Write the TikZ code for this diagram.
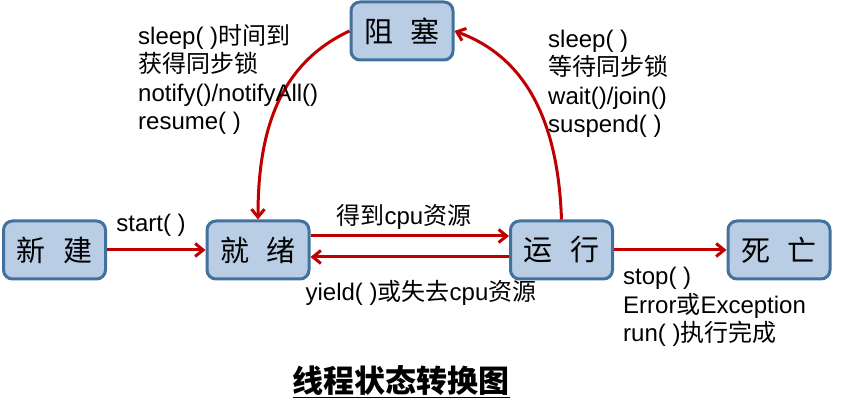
\documentclass[tikz,border=0pt]{standalone}
\usepackage{fontspec}
\setmainfont{Liberation Sans}
\newfontfamily\cjk{Noto Sans CJK SC}
\usetikzlibrary{arrows.meta}
\tikzset{>={Straight Barb[length=8pt,width=13pt]}}
\definecolor{b1}{HTML}{B9CDE5}
\definecolor{b2}{HTML}{41719C}
\definecolor{r1}{HTML}{C00000}
\newcommand\zh[1]{{\cjk #1}}
\tikzstyle{state}=[draw=b2,fill=b1,line width=3pt,rounded corners=9pt,minimum width=102pt,minimum height=58pt,font=\cjk\fontsize{29}{30}\selectfont]
\tikzstyle{trans}=[->,r1,line width=3pt]
\tikzstyle{lbl}=[font=\fontsize{24}{28.5}\selectfont,align=left,inner sep=0pt]

\begin{document}
\begin{tikzpicture}[x=1pt,y=1pt]
  \useasboundingbox (0,0) rectangle (852,403);
  \node[state] (xinjian) at (54.5,153) {新\hspace{0.6em}建};
  \node[state] (jiuxu) at (258,153) {就\hspace{0.6em}绪};
  \node[state] (yunxing) at (561.5,153) {运\hspace{0.6em}行};
  \node[state] (siwang) at (779,153) {死\hspace{0.6em}亡};
  \node[state] (zuse) at (402,372) {阻\hspace{0.6em}塞};
  \draw[trans] (xinjian) -- (jiuxu);
  \draw[trans] ([yshift=14pt]jiuxu.east) -- ([yshift=14pt]yunxing.west);
  \draw[trans] ([yshift=-7pt]yunxing.west) -- ([yshift=-7pt]jiuxu.east);
  \draw[trans] (yunxing) -- (siwang);
  \draw[trans] (zuse.west) to[out=205,in=90] (jiuxu.north);
  \draw[trans] (yunxing.north) to[out=92,in=-20] (zuse.east);
  \node[lbl] (start) at (151,178) {start( )};
  \node[lbl] (getcpu) at (404,186) {\zh{得到}cpu\zh{资源}};
  \node[lbl] (yield) at (421,110) {yield( )\zh{或失去}cpu\zh{资源}};
  \node[lbl,anchor=west] (wakeup) at (138,323.5) {sleep( )\zh{时间到}\\ \zh{获得同步锁}\\ notify()/notifyAll()\\ resume( )};
  \node[lbl,anchor=west] (block) at (548,319) {sleep( )\\ \zh{等待同步锁}\\ wait()/join()\\ suspend( )};
  \node[lbl,anchor=west] (stop) at (623,96) {stop( )\\ Error\zh{或}Exception\\ run( )\zh{执行完成}};
  % title
  \node[font=\cjk\bfseries\fontsize{31}{32}\selectfont] (title) at (401,21) {\underline{线程状态转换图}};
\end{tikzpicture}
\end{document}
